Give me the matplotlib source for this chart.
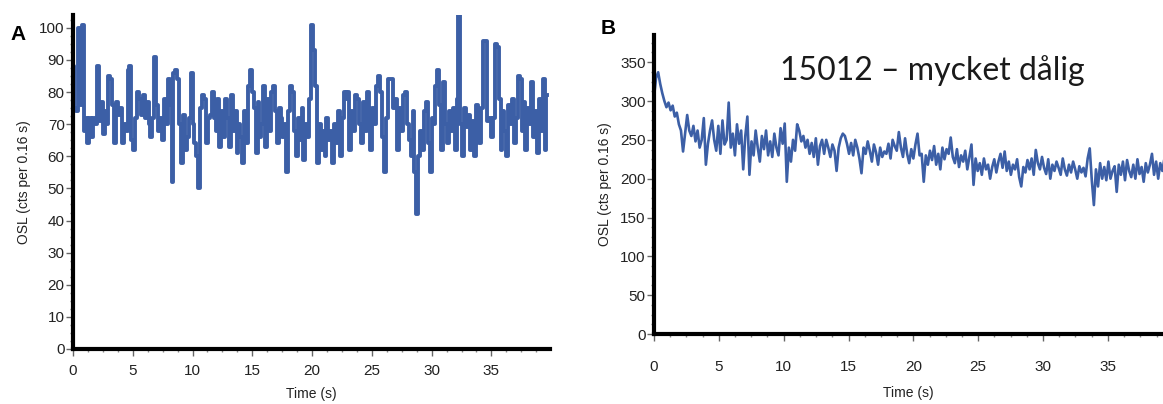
import numpy as np
import matplotlib
matplotlib.use('Agg')
import matplotlib.pyplot as plt
from matplotlib.ticker import MultipleLocator, AutoMinorLocator

plt.rcParams['font.family'] = ['Liberation Sans', 'DejaVu Sans']

# OSL signal, 0.16 s channels
dt = 0.16
osl_a = [88, 75, 74, 100, 76, 101, 68,
         72, 64, 72, 66, 72, 70,
         88, 71, 77, 67, 74, 70,
         85, 84, 76, 64, 77, 73,
         75, 64, 70, 68, 87, 88, 65,
         62, 72, 80, 78, 73, 79,
         72, 77, 70, 66, 72, 91,
         76, 68, 72, 65, 78, 70,
         84, 76, 52, 86, 87, 84, 70,
         58, 73, 62, 66, 72, 86,
         70, 64, 60, 50, 75, 79,
         78, 64, 72, 73, 80, 72,
         68, 78, 63, 74, 66, 78, 72,
         63, 79, 68, 74, 61, 70,
         66, 58, 74, 64, 82, 87,
         80, 75, 61, 77, 66, 70,
         82, 63, 78, 68, 80, 82, 74,
         64, 75, 72, 66, 70, 55,
         74, 82, 80, 68, 60, 72,
         65, 75, 59, 70, 66, 78,
         101, 93, 82, 58, 70, 62, 68,
         60, 72, 65, 68, 58, 70,
         64, 74, 60, 72, 80, 78,
         80, 62, 74, 68, 79, 78,
         70, 64, 77, 68, 80, 73, 62,
         75, 70, 82, 85, 80, 66,
         55, 72, 84, 84, 84, 75,
         78, 62, 75, 68, 79, 80,
         70, 65, 60, 74, 55, 42, 60,
         68, 62, 74, 77, 64, 55,
         72, 70, 82, 87, 76, 62,
         83, 70, 64, 74, 68, 75,
         62, 78, 104, 70, 60, 75, 69,
         73, 62, 71, 60, 76, 70,
         64, 75, 96, 96, 71, 72,
         66, 72, 95, 94, 78, 62,
         74, 68, 60, 76, 70, 78, 64,
         72, 85, 84, 68, 77, 62,
         75, 70, 83, 66, 74, 61,
         78, 68, 84, 62, 79]

osl_b = [305, 330, 337, 322, 310, 300, 292,
         298, 288, 294, 280, 285, 270,
         262, 235, 258, 282, 262, 255,
         268, 248, 262, 240, 250, 278,
         218, 245, 262, 275, 250, 236, 268,
         232, 275, 244, 250, 298, 240,
         258, 230, 270, 245, 262, 212,
         255, 280, 205, 248, 230, 262,
         240, 222, 255, 238, 262, 230, 248,
         228, 258, 240, 230, 265, 245,
         271, 196, 240, 222, 250, 236,
         270, 262, 248, 255, 240, 250,
         232, 246, 228, 252, 218, 242, 250,
         232, 250, 240, 228, 244, 236,
         210, 240, 252, 258, 255, 245,
         232, 246, 230, 250, 240, 226,
         207, 240, 232, 248, 236, 222, 244,
         234, 218, 240, 228, 235, 232,
         245, 226, 250, 242, 236, 260,
         240, 228, 252, 232, 220, 238,
         226, 244, 258, 230, 232, 196, 230,
         218, 236, 224, 242, 218, 232,
         212, 240, 225, 238, 232, 253,
         228, 220, 238, 215, 230, 222,
         236, 212, 228, 244, 192, 226, 210,
         220, 205, 226, 212, 218, 200,
         215, 225, 208, 222, 232, 214,
         235, 210, 222, 205, 218, 212,
         225, 202, 190, 215, 208, 224, 212,
         226, 205, 237, 220, 212, 228,
         214, 206, 225, 200, 218, 210,
         222, 214, 205, 226, 212, 204,
         218, 208, 222, 212, 200, 216, 208,
         214, 203, 226, 239, 198, 166,
         212, 190, 220, 200, 215, 198,
         222, 200, 210, 216, 183, 218,
         205, 222, 198, 224, 210, 202, 218,
         200, 225, 206, 215, 196, 220,
         208, 218, 232, 205, 222, 200,
         220, 210, 226]

time_a = np.arange(len(osl_a)) * dt
time_b = np.arange(len(osl_b)) * dt

line_color = '#3c5fa6'
tick_color = '#222222'

fig = plt.figure(figsize=(11.63, 4.04), dpi=100)

ax_a = fig.add_axes([73 / 1163, 1 - 349 / 404, 477 / 1163, 334 / 404])
ax_b = fig.add_axes([654 / 1163, 1 - 334 / 404, 509 / 1163, 299 / 404])

ax_a.plot(time_a, osl_a, color=line_color, linewidth=2.8, drawstyle='steps-mid')
ax_b.plot(time_b, osl_b, color=line_color, linewidth=1.9)

ax_a.set_xlim(0, 39.9)
ax_a.set_ylim(0, 104)
ax_a.yaxis.set_major_locator(MultipleLocator(10))
ax_b.set_xlim(0, 39.25)
ax_b.set_ylim(0, 385)
ax_b.yaxis.set_major_locator(MultipleLocator(50))

for ax in (ax_a, ax_b):
    ax.xaxis.set_major_locator(MultipleLocator(5))
    ax.xaxis.set_minor_locator(AutoMinorLocator(4))
    ax.yaxis.set_minor_locator(AutoMinorLocator(4))
    for side in ('top', 'right'):
        ax.spines[side].set_visible(False)
    for side in ('left', 'bottom'):
        ax.spines[side].set_linewidth(3)
        ax.spines[side].set_color('black')
    ax.tick_params(which='major', direction='out', length=5, width=1,
                   colors='#666666', labelcolor=tick_color, labelsize=11, pad=1)
    ax.tick_params(which='minor', direction='out', length=2.5, width=1, colors='#888888')
    ax.set_ylabel('OSL (cts per 0.16 s)', fontsize=10, color=tick_color, labelpad=6)
    ax.margins(0)

ax_a.tick_params(axis='x', which='major', pad=6)
ax_b.tick_params(axis='x', which='major', pad=14)
ax_a.set_xlabel('Time (s)', fontsize=10, color=tick_color)
ax_b.set_xlabel('Time (s)', fontsize=10, color=tick_color)
ax_a.xaxis.set_label_coords(0.5, -0.115)
ax_b.xaxis.set_label_coords(0.5, -0.175)

fig.text(18 / 1163, 1 - 35 / 404, 'A', fontsize=15, fontweight='bold', va='center', ha='center')
fig.text(608 / 1163, 1 - 28 / 404, 'B', fontsize=15, fontweight='bold', va='center', ha='center')
fig.text(932 / 1163, 1 - 71 / 404, '15012 \u2013 mycket d\u00e5lig', fontsize=23,
         family=['Lato', 'DejaVu Sans'],
         va='center', ha='center', color='#1a1a1a')

fig.savefig('out.png', dpi=100)
